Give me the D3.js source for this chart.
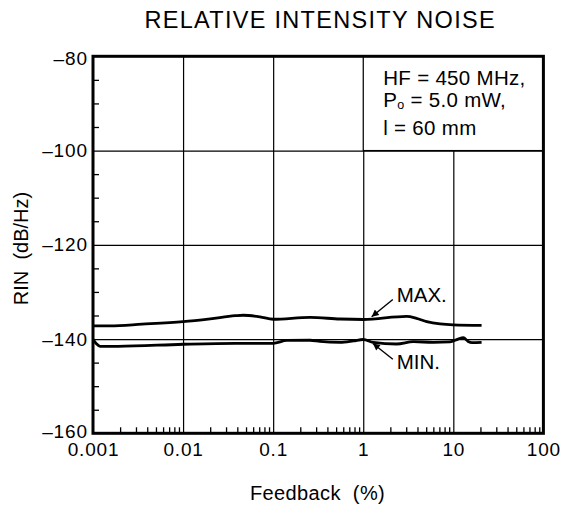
<!DOCTYPE html>
<html>
<head>
<meta charset="utf-8">
<script src="https://cdn.jsdelivr.net/npm/d3@7"></script>
<style>
  html, body { margin: 0; padding: 0; background: #fff; }
  svg { display: block; font-family: "Liberation Sans", Arial, Helvetica, sans-serif; }
  text { white-space: pre; }
</style>
</head>
<body>
<svg id="chart" width="564" height="514"></svg>
<script>
// ---- data ----
const titleText = "RELATIVE INTENSITY NOISE";
const xLabelText = "Feedback  (%)";
const yLabelText = "RIN  (dB/Hz)";

const xMajorTicks = [0.001, 0.01, 0.1, 1, 10, 100];
const xTickLabels = ["0.001", "0.01", "0.1", "1", "10", "100"];
const yMajorTicks = [-80, -100, -120, -140, -160];
const yTickLabels = ["\u201380", "\u2013100", "\u2013120", "\u2013140", "\u2013160"];

const feedbackMax = [0.001, 0.00155, 0.0035, 0.01, 0.02, 0.0379, 0.0465, 0.0716, 0.1, 0.257, 0.553, 1, 3.04, 3.9, 5.07, 7.13, 10, 20.6];
const rinMax      = [-137.2, -137.2, -136.85, -136.3, -135.7, -135.05, -134.95, -135.3, -135.8, -135.4, -135.75, -135.85, -135.2, -135.6, -136.3, -136.8, -137.0, -137.1];

const feedbackMin = [0.001, 0.00109, 0.0012, 0.0019, 0.01, 0.0379, 0.1, 0.142, 0.257, 0.33, 0.553, 0.778, 1, 1.29, 2.35, 3.6, 6.0, 9.2, 11.3, 12.9, 14.6, 16.1, 20.6];
const rinMin      = [-140.05, -141.0, -141.55, -141.55, -141.1, -140.9, -140.9, -140.3, -140.25, -140.5, -140.7, -140.4, -140.1, -140.7, -141.05, -140.55, -140.7, -140.6, -140.0, -139.7, -140.5, -140.75, -140.7];

const noteLines = ["HF = 450 MHz,", "P|o| = 5.0 mW,", "l = 60 mm"];
const seriesLabels = ["MAX.", "MIN."];
// arrow annotations: [tailF, tailDb, tipF, tipDb]; label baseline positions [f, dB]
const arrowMax = [2.13, -131.6, 1.24, -135.26];
const arrowMin = [2.13, -144.3, 1.28, -140.94];
const labelMaxPos = [2.35, -132.05];
const labelMinPos = [2.35, -146.3];

// ---- layout ----
const L = 93, R = 543.4, T = 56.3, B = 433.3;
const svg = d3.select("#chart");

const x = d3.scaleLog().domain([0.001, 100]).range([L, R]);
const y = d3.scaleLinear().domain([-160, -80]).range([B, T]);

// minor ticks
const xMinor = [];
for (let e = -3; e < 2; e++) for (let k = 2; k <= 9; k++) xMinor.push(k * Math.pow(10, e));
const yMinor = d3.range(-155, -80, 5).filter(v => v % 20 !== 0);

// gridlines
const gx = svg.append("g").attr("transform", `translate(0,${B})`)
  .call(d3.axisBottom(x).tickValues([0.01, 0.1, 1, 10]).tickSize(-(B - T)).tickFormat(""));
gx.select(".domain").remove();
gx.selectAll("line").attr("stroke", "#000").attr("stroke-width", 1.2);

const gy = svg.append("g").attr("transform", `translate(${L},0)`)
  .call(d3.axisLeft(y).tickValues([-100, -120, -140]).tickSize(-(R - L)).tickFormat(""));
gy.select(".domain").remove();
gy.selectAll("line").attr("stroke", "#000").attr("stroke-width", 1.2);

// note box (covers gridline cell)
svg.append("rect")
  .attr("x", x(1)).attr("y", y(-80))
  .attr("width", x(100) - x(1)).attr("height", y(-100) - y(-80))
  .attr("fill", "#fff").attr("stroke", "#000").attr("stroke-width", 1.2);

const note = svg.append("g").attr("font-size", 20.5).attr("fill", "#000");
const noteBaselines = [85, 107, 134.5];
noteLines.forEach((s, i) => {
  const t = note.append("text").attr("x", x(1) + 20).attr("y", noteBaselines[i]).attr("letter-spacing", 0.3);
  const parts = s.split("|");
  if (parts.length === 3) {
    t.append("tspan").text(parts[0]);
    t.append("tspan").attr("font-size", 12.5).attr("dy", 1.5).text(parts[1]);
    t.append("tspan").attr("dy", -1.5).text(parts[2]);
  } else {
    t.text(s);
  }
});

// minor ticks
const mx = svg.append("g").attr("transform", `translate(0,${B})`)
  .call(d3.axisBottom(x).tickValues(xMinor).tickSize(-6).tickFormat(""));
mx.select(".domain").remove();
mx.selectAll("line").attr("stroke", "#000").attr("stroke-width", 1.3);

const my = svg.append("g").attr("transform", `translate(${L},0)`)
  .call(d3.axisLeft(y).tickValues(yMinor).tickSize(-6).tickFormat(""));
my.select(".domain").remove();
my.selectAll("line").attr("stroke", "#000").attr("stroke-width", 1.3);

// major labels
const ax = svg.append("g").attr("transform", `translate(0,${B})`)
  .call(d3.axisBottom(x).tickValues(xMajorTicks).tickSize(0).tickPadding(9.5)
    .tickFormat((d, i) => xTickLabels[i]));
ax.select(".domain").remove();
ax.selectAll("text").attr("font-size", 19).attr("fill", "#000")
  .attr("font-family", "Liberation Sans, Arial, sans-serif").attr("letter-spacing", 0.8);

const ay = svg.append("g").attr("transform", `translate(${L},0)`)
  .call(d3.axisLeft(y).tickValues(yMajorTicks).tickSize(0).tickPadding(5)
    .tickFormat((d, i) => yTickLabels[i]));
ay.select(".domain").remove();
ay.selectAll("text").attr("font-size", 19).attr("fill", "#000")
  .attr("font-family", "Liberation Sans, Arial, sans-serif").attr("letter-spacing", 0.9)
  .attr("dy", d => d === -160 ? "0.2em" : (d === -80 ? "0.45em" : "0.32em"));

// curves
const line = d3.line().x(d => x(d[0])).y(d => y(d[1])).curve(d3.curveMonotoneX);
svg.append("path").datum(d3.zip(feedbackMax, rinMax)).attr("d", line)
  .attr("fill", "none").attr("stroke", "#000").attr("stroke-width", 2.8).attr("stroke-linejoin", "round");
svg.append("path").datum(d3.zip(feedbackMin, rinMin)).attr("d", line)
  .attr("fill", "none").attr("stroke", "#000").attr("stroke-width", 2.8).attr("stroke-linejoin", "round");

// arrows
svg.append("defs").append("marker")
  .attr("id", "ah").attr("viewBox", "0 0 10 10").attr("refX", 10).attr("refY", 5)
  .attr("markerWidth", 11).attr("markerHeight", 7).attr("markerUnits", "userSpaceOnUse")
  .attr("orient", "auto")
  .append("path").attr("d", "M0,0 L10,5 L0,10 Z").attr("fill", "#000");

[arrowMax, arrowMin].forEach(a => {
  svg.append("line")
    .attr("x1", x(a[0])).attr("y1", y(a[1]))
    .attr("x2", x(a[2])).attr("y2", y(a[3]))
    .attr("stroke", "#000").attr("stroke-width", 1.4)
    .attr("marker-end", "url(#ah)");
});

svg.append("text").attr("x", x(labelMaxPos[0])).attr("y", y(labelMaxPos[1]))
  .attr("font-size", 20.5).attr("fill", "#000").text(seriesLabels[0]);
svg.append("text").attr("x", x(labelMinPos[0])).attr("y", y(labelMinPos[1]))
  .attr("font-size", 20.5).attr("fill", "#000").text(seriesLabels[1]);

// frame
svg.append("rect").attr("x", L).attr("y", T).attr("width", R - L).attr("height", B - T)
  .attr("fill", "none").attr("stroke", "#000").attr("stroke-width", 3);

// title and axis titles
svg.append("text").attr("x", (L + R) / 2 + 2).attr("y", 28)
  .attr("text-anchor", "middle").attr("font-size", 23.5).attr("letter-spacing", 1.3)
  .attr("fill", "#000").text(titleText);

svg.append("text").attr("x", 317.5).attr("y", 500)
  .attr("text-anchor", "middle").attr("font-size", 20).attr("letter-spacing", 0.4)
  .attr("fill", "#000").text(xLabelText);

svg.append("text").attr("transform", "translate(27.5,248.5) rotate(-90)")
  .attr("text-anchor", "middle").attr("font-size", 20)
  .attr("fill", "#000").text(yLabelText);
</script>
</body>
</html>
